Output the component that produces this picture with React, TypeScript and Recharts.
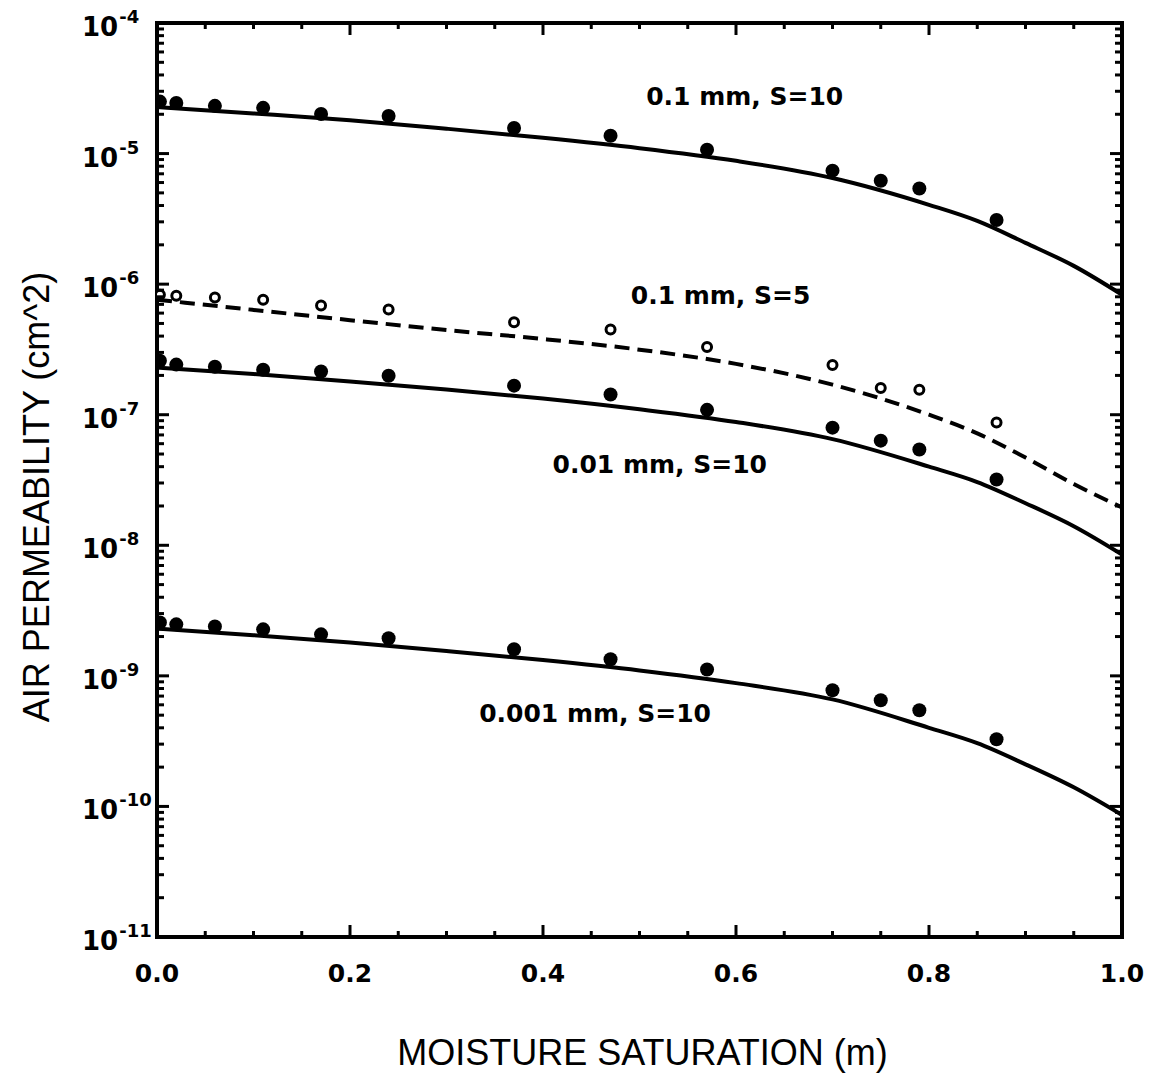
import React from 'react';
import { ComposedChart, Line, Scatter, XAxis, YAxis, ReferenceDot, Label } from 'recharts';

// ---------- data ----------
const measuredX = [0.003, 0.02, 0.06, 0.11, 0.17, 0.24, 0.37, 0.47, 0.57, 0.7, 0.75, 0.79, 0.87];
const meas01mmS10 = [2.5e-5, 2.44e-5, 2.32e-5, 2.24e-5, 2.01e-5, 1.94e-5, 1.57e-5, 1.37e-5, 1.07e-5, 7.4e-6, 6.2e-6, 5.4e-6, 3.1e-6];
const meas01mmS5 = [8.3e-7, 8.15e-7, 7.9e-7, 7.6e-7, 6.85e-7, 6.4e-7, 5.1e-7, 4.5e-7, 3.3e-7, 2.4e-7, 1.6e-7, 1.55e-7, 8.7e-8];
const meas001mmS10 = [2.59e-7, 2.42e-7, 2.33e-7, 2.21e-7, 2.14e-7, 1.99e-7, 1.67e-7, 1.43e-7, 1.09e-7, 7.96e-8, 6.33e-8, 5.41e-8, 3.19e-8];
const meas0001mmS10 = [2.56e-9, 2.48e-9, 2.39e-9, 2.27e-9, 2.08e-9, 1.94e-9, 1.6e-9, 1.34e-9, 1.12e-9, 7.75e-10, 6.5e-10, 5.45e-10, 3.27e-10];

const modelX = [0, 0.1, 0.2, 0.3, 0.4, 0.5, 0.6, 0.7, 0.8, 0.85, 0.9, 0.95, 1.0];
const model01mmS10 = [2.27e-5, 2.03e-5, 1.8e-5, 1.55e-5, 1.32e-5, 1.1e-5, 8.8e-6, 6.5e-6, 4.05e-6, 3.05e-6, 2.07e-6, 1.38e-6, 8.3e-7];
const model01mmS5 = [7.6e-7, 6.35e-7, 5.3e-7, 4.45e-7, 3.8e-7, 3.15e-7, 2.45e-7, 1.7e-7, 1.0e-7, 7.2e-8, 4.7e-8, 2.95e-8, 1.95e-8];
const model001mmS10 = [2.3e-7, 2.05e-7, 1.8e-7, 1.56e-7, 1.33e-7, 1.1e-7, 8.8e-8, 6.5e-8, 4.0e-8, 3.05e-8, 2.1e-8, 1.4e-8, 8.5e-9];
const model0001mmS10 = [2.3e-9, 2.05e-9, 1.8e-9, 1.55e-9, 1.32e-9, 1.1e-9, 8.8e-10, 6.6e-10, 4.0e-10, 3.05e-10, 2.1e-10, 1.4e-10, 8.6e-11];

const xTicks = [0, 0.05, 0.1, 0.15, 0.2, 0.25, 0.3, 0.35, 0.4, 0.45, 0.5, 0.55, 0.6, 0.65, 0.7, 0.75, 0.8, 0.85, 0.9, 0.95, 1.0];
const decadeTicks = [1e-11, 1e-10, 1e-9, 1e-8, 1e-7, 1e-6, 1e-5, 1e-4];
const minorMantissas = [2, 3, 4, 5, 6, 7, 8, 9];

const annoText = ['0.1 mm, S=10', '0.1 mm, S=5', '0.01 mm, S=10', '0.001 mm, S=10'];
const annoX = [0.609, 0.584, 0.521, 0.454];
const annoY = [2.76e-5, 8.2e-7, 4.2e-8, 5.2e-10];

const xTitle = 'MOISTURE SATURATION (m)';
const yTitle = 'AIR PERMEABILITY (cm^2)';

// ---------- helpers ----------
const toPoints = (xs: number[], ys: number[]) => xs.map((x, i) => ({ x, y: ys[i] }));
const yTicks: number[] = [];
decadeTicks.forEach((d, i) => {
  yTicks.push(d);
  if (i < decadeTicks.length - 1) minorMantissas.forEach((m) => yTicks.push(m * d));
});

const TICK_FONT = "'DejaVu Sans', sans-serif";
const TITLE_FONT = "'Liberation Sans', Arial, sans-serif";

const isMajorX = (v: number) => Math.abs(v * 5 - Math.round(v * 5)) < 1e-6;
const isMajorY = (v: number) => {
  const lg = Math.log10(v);
  return Math.abs(lg - Math.round(lg)) < 1e-6;
};

const XTickBottom = (props: any) => {
  const { x, y, payload } = props;
  const v = payload.value;
  const major = isMajorX(v);
  const len = major ? 12 : 6;
  return (
    <g>
      <line x1={x} x2={x} y1={y} y2={y - len} stroke="#000" strokeWidth={3} />
      {major && (
        <text x={x} y={y + 45} textAnchor="middle" fontFamily={TICK_FONT} fontWeight="bold" fontSize={25} fill="#000">
          {v.toFixed(1)}
        </text>
      )}
    </g>
  );
};

const XTickTop = (props: any) => {
  const { x, y, payload } = props;
  const len = isMajorX(payload.value) ? 12 : 6;
  return <line x1={x} x2={x} y1={y} y2={y + len} stroke="#000" strokeWidth={3} />;
};

const YTickLeft = (props: any) => {
  const { x, y, payload } = props;
  const v = payload.value;
  const major = isMajorY(v);
  const len = major ? 12 : 7;
  return (
    <g>
      <line x1={x} x2={x + len} y1={y} y2={y} stroke="#000" strokeWidth={3} />
      {major && (
        <text x={x - 75} y={y + 13} fontFamily={TICK_FONT} fontWeight="bold" fontSize={26} fill="#000">
          10
          <tspan dy={-13} dx={1} fontSize={18}>
            {String(Math.round(Math.log10(v)))}
          </tspan>
        </text>
      )}
    </g>
  );
};

const YTickRight = (props: any) => {
  const { x, y, payload } = props;
  const len = isMajorY(payload.value) ? 12 : 7;
  return <line x1={x} x2={x - len} y1={y} y2={y} stroke="#000" strokeWidth={3} />;
};

const XTitle = (props: any) => {
  const vb = props.viewBox || {};
  return (
    <text x={vb.x + vb.width / 2 + 3} y={vb.y + 128} textAnchor="middle" fontFamily={TITLE_FONT} fontSize={36} fill="#000">
      {xTitle}
    </text>
  );
};

const YTitle = (props: any) => {
  const vb = props.viewBox || {};
  const cx = vb.x + 41;
  const cy = vb.y + vb.height / 2 + 17;
  return (
    <text x={cx} y={cy} transform={`rotate(-90 ${cx} ${cy})`} textAnchor="middle" fontFamily={TITLE_FONT} fontSize={36} fill="#000">
      {yTitle}
    </text>
  );
};

const FilledDot = (props: any) => {
  const { cx, cy } = props;
  if (cx == null || cy == null) return null;
  return <circle cx={cx} cy={cy} r={7} fill="#000" />;
};

const OpenDot = (props: any) => {
  const { cx, cy } = props;
  if (cx == null || cy == null) return null;
  return <circle cx={cx} cy={cy} r={4.5} fill="#fff" stroke="#000" strokeWidth={3} />;
};

const AnnoLabel = (text: string) => (props: any) => {
  const vb = props.viewBox || {};
  const cx = vb.x + (vb.width || 0) / 2;
  const cy = vb.y + (vb.height || 0) / 2;
  return (
    <text x={cx} y={cy + 9} textAnchor="middle" fontFamily={TICK_FONT} fontWeight="bold" fontSize={25} fill="#000">
      {text}
    </text>
  );
};

const axisLineStyle = { stroke: '#000', strokeWidth: 4, strokeLinecap: 'square' as const };

export default function App() {
  const solidModels = [model01mmS10, model001mmS10, model0001mmS10];
  const filledMeas = [meas01mmS10, meas001mmS10, meas0001mmS10];
  return (
    <div style={{ width: 1147, height: 1075, marginTop: -8, marginLeft: 0 }}>
      <ComposedChart width={1147} height={1075} margin={{ top: 0, right: 0, bottom: 0, left: 0 }}>
        <XAxis
          xAxisId="b"
          type="number"
          dataKey="x"
          domain={[0, 1]}
          allowDataOverflow
          ticks={xTicks}
          interval={0}
          tick={<XTickBottom />}
          tickLine={false}
          tickSize={0}
          tickMargin={0}
          axisLine={axisLineStyle}
          height={138}
        >
          <Label content={<XTitle />} />
        </XAxis>
        <XAxis
          xAxisId="t"
          orientation="top"
          type="number"
          dataKey="x"
          domain={[0, 1]}
          allowDataOverflow
          ticks={xTicks}
          interval={0}
          tick={<XTickTop />}
          tickLine={false}
          tickSize={0}
          tickMargin={0}
          axisLine={axisLineStyle}
          height={23}
        />
        <YAxis
          yAxisId="l"
          type="number"
          dataKey="y"
          scale="log"
          domain={[1e-11, 1e-4]}
          allowDataOverflow
          ticks={yTicks}
          interval={0}
          tick={<YTickLeft />}
          tickLine={false}
          tickSize={0}
          tickMargin={0}
          axisLine={axisLineStyle}
          width={149}
        >
          <Label content={<YTitle />} />
        </YAxis>
        <YAxis
          yAxisId="r"
          orientation="right"
          type="number"
          dataKey="y"
          scale="log"
          domain={[1e-11, 1e-4]}
          allowDataOverflow
          ticks={yTicks}
          interval={0}
          tick={<YTickRight />}
          tickLine={false}
          tickSize={0}
          tickMargin={0}
          axisLine={axisLineStyle}
          width={33}
        />

        {solidModels.map((ys, i) => (
          <Line
            key={'m' + i}
            xAxisId="b"
            yAxisId="l"
            data={toPoints(modelX, ys)}
            dataKey="y"
            type="monotone"
            stroke="#000"
            strokeWidth={4}
            dot={false}
            activeDot={false}
            isAnimationActive={false}
          />
        ))}
        <Line
          xAxisId="b"
          yAxisId="l"
          data={toPoints(modelX, model01mmS5)}
          dataKey="y"
          type="monotone"
          stroke="#000"
          strokeWidth={4}
          strokeDasharray="15 8"
          dot={false}
          activeDot={false}
          isAnimationActive={false}
        />

        {filledMeas.map((ys, i) => (
          <Scatter
            key={'s' + i}
            xAxisId="b"
            yAxisId="l"
            data={toPoints(measuredX, ys)}
            dataKey="y"
            shape={<FilledDot />}
            isAnimationActive={false}
          />
        ))}
        <Scatter
          xAxisId="b"
          yAxisId="l"
          data={toPoints(measuredX, meas01mmS5)}
          dataKey="y"
          shape={<OpenDot />}
          isAnimationActive={false}
        />

        {annoText.map((t, i) => (
          <ReferenceDot
            key={'a' + i}
            xAxisId="b"
            yAxisId="l"
            x={annoX[i]}
            y={annoY[i]}
            r={1}
            fill="none"
            stroke="none"
            label={{ content: AnnoLabel(t) }}
          />
        ))}
      </ComposedChart>
    </div>
  );
}
